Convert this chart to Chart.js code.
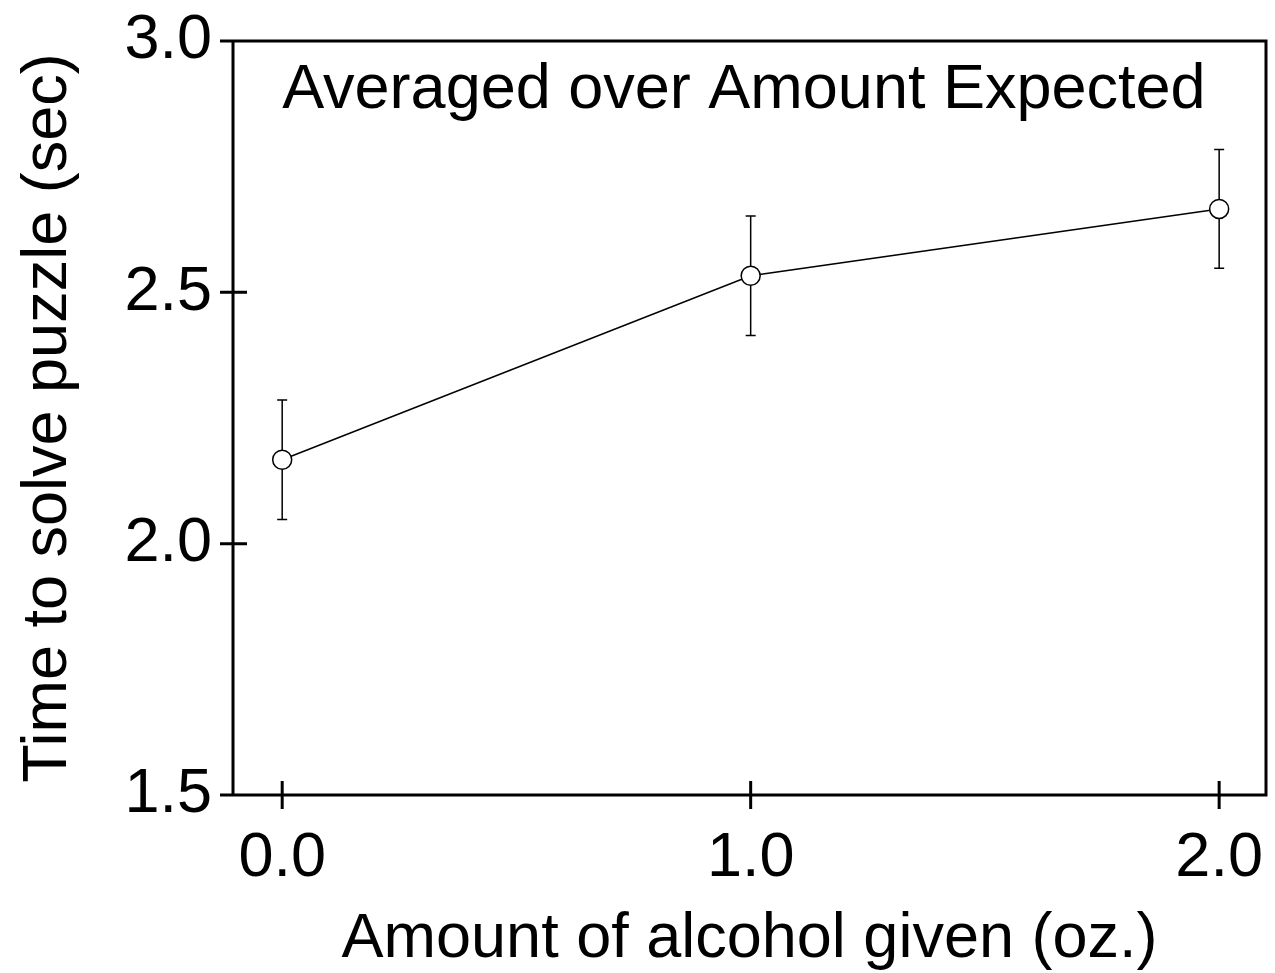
<!DOCTYPE html>
<html>
<head>
<meta charset="utf-8">
<script src="https://cdn.jsdelivr.net/npm/chart.js@4.4.1/dist/chart.umd.min.js"></script>
<style>
  html, body { margin: 0; padding: 0; background: #fff; }
  #wrap { width: 1275px; height: 973px; }
</style>
</head>
<body>
<div id="wrap"><canvas id="c" width="1275" height="973"></canvas></div>
<script>
// Alcohol dose (oz.) and mean puzzle-solving time with its error half-width
const alcoholOz = [0, 1, 2];
const meanTime = [2.167, 2.533, 2.666];
const errorHalf = [0.119, 0.119, 0.118];
const xTickValues = [0, 1, 2];
const yTickValues = [1.5, 2.0, 2.5, 3.0];
const xTitle = 'Amount of alcohol given (oz.)';
const yTitle = 'Time to solve puzzle (sec)';
const panelNote = 'Averaged over Amount Expected';

const FONT = '"Liberation Sans", Arial, Helvetica, sans-serif';
const FONT_SIZE = 63;

// keep the plot box fixed: no extra room for overhanging tick labels
function noScalePadding(s) {
  s.paddingLeft = 0; s.paddingRight = 0; s.paddingTop = 0; s.paddingBottom = 0;
}

// Error bars underneath the markers
const errorBars = {
  id: 'errorBars',
  beforeDatasetsDraw(chart) {
    const { ctx, scales: { x, y } } = chart;
    ctx.save();
    ctx.strokeStyle = '#000';
    ctx.lineWidth = 1.5;
    alcoholOz.forEach((v, i) => {
      const px = x.getPixelForValue(v);
      const top = y.getPixelForValue(meanTime[i] + errorHalf[i]);
      const bot = y.getPixelForValue(meanTime[i] - errorHalf[i]);
      ctx.beginPath();
      ctx.moveTo(px, top); ctx.lineTo(px, bot);
      ctx.moveTo(px - 5, top); ctx.lineTo(px + 5, top);
      ctx.moveTo(px - 5, bot); ctx.lineTo(px + 5, bot);
      ctx.stroke();
    });
    ctx.restore();
  }
};

// Box frame with ticks that cross the axis lines, plus the panel note
const frame = {
  id: 'frame',
  afterDraw(chart) {
    const { ctx, chartArea: a, scales: { x, y } } = chart;
    const tick = 13;
    ctx.save();
    ctx.strokeStyle = '#000';
    ctx.lineWidth = 3;
    ctx.lineCap = 'butt';
    ctx.beginPath();
    // top and bottom edges (extend left to form the end ticks)
    ctx.moveTo(a.left - tick, a.top); ctx.lineTo(a.right + 1.5, a.top);
    ctx.moveTo(a.left - tick, a.bottom); ctx.lineTo(a.right + 1.5, a.bottom);
    // left and right edges
    ctx.moveTo(a.left, a.top); ctx.lineTo(a.left, a.bottom);
    ctx.moveTo(a.right, a.top - 1.5); ctx.lineTo(a.right, a.bottom + 1.5);
    // inner y ticks
    yTickValues.forEach(v => {
      if (v === y.min || v === y.max) return;
      const py = y.getPixelForValue(v);
      ctx.moveTo(a.left - tick, py); ctx.lineTo(a.left + tick + 1, py);
    });
    // x ticks
    xTickValues.forEach(v => {
      const px = x.getPixelForValue(v);
      ctx.moveTo(px, a.bottom - 14); ctx.lineTo(px, a.bottom + 14);
    });
    ctx.stroke();

    ctx.fillStyle = '#000';
    ctx.font = FONT_SIZE + 'px ' + FONT;
    ctx.textAlign = 'left';
    ctx.textBaseline = 'alphabetic';
    ctx.fillText(panelNote, x.getPixelForValue(0), 108);
    ctx.restore();
  }
};

new Chart(document.getElementById('c'), {
  type: 'line',
  data: {
    datasets: [{
      data: alcoholOz.map((v, i) => ({ x: v, y: meanTime[i] })),
      borderColor: '#000',
      borderWidth: 1.5,
      pointRadius: 9.5,
      pointBackgroundColor: '#fff',
      pointBorderColor: '#000',
      pointBorderWidth: 1.5,
      tension: 0,
      clip: false
    }]
  },
  options: {
    responsive: false,
    animation: false,
    devicePixelRatio: 1,
    layout: { autoPadding: false, padding: { left: 0, top: 41, right: 9, bottom: 0 } },
    plugins: { legend: { display: false }, tooltip: { enabled: false } },
    scales: {
      x: {
        type: 'linear',
        min: -0.105,
        max: 2.1,
        afterBuildTicks(s) { s.ticks = xTickValues.map(v => ({ value: v })); },
        afterFit(s) { s.height = 178; noScalePadding(s); },
        grid: { display: false, drawTicks: false },
        border: { display: false },
        ticks: {
          color: '#000',
          padding: 32,
          maxRotation: 0,
          autoSkip: false,
          font: { family: FONT, size: FONT_SIZE, lineHeight: 1 },
          callback: v => Number(v).toFixed(1)
        },
        title: {
          display: true,
          text: xTitle,
          color: '#000',
          padding: { top: 0, bottom: 2 },
          font: { family: FONT, size: FONT_SIZE, lineHeight: 1 }
        }
      },
      y: {
        type: 'linear',
        min: 1.5,
        max: 3.0,
        afterBuildTicks(s) { s.ticks = yTickValues.map(v => ({ value: v })); },
        afterFit(s) { s.width = 233; noScalePadding(s); },
        grid: { display: false, drawTicks: false },
        border: { display: false },
        ticks: {
          color: '#000',
          padding: 21,
          autoSkip: false,
          font: { family: FONT, size: FONT_SIZE, lineHeight: 1 },
          callback: v => Number(v).toFixed(1)
        },
        title: {
          display: true,
          text: yTitle,
          color: '#000',
          padding: { top: 17, bottom: 0 },
          font: { family: FONT, size: FONT_SIZE, lineHeight: 1 }
        }
      }
    }
  },
  plugins: [errorBars, frame]
});
</script>
</body>
</html>
